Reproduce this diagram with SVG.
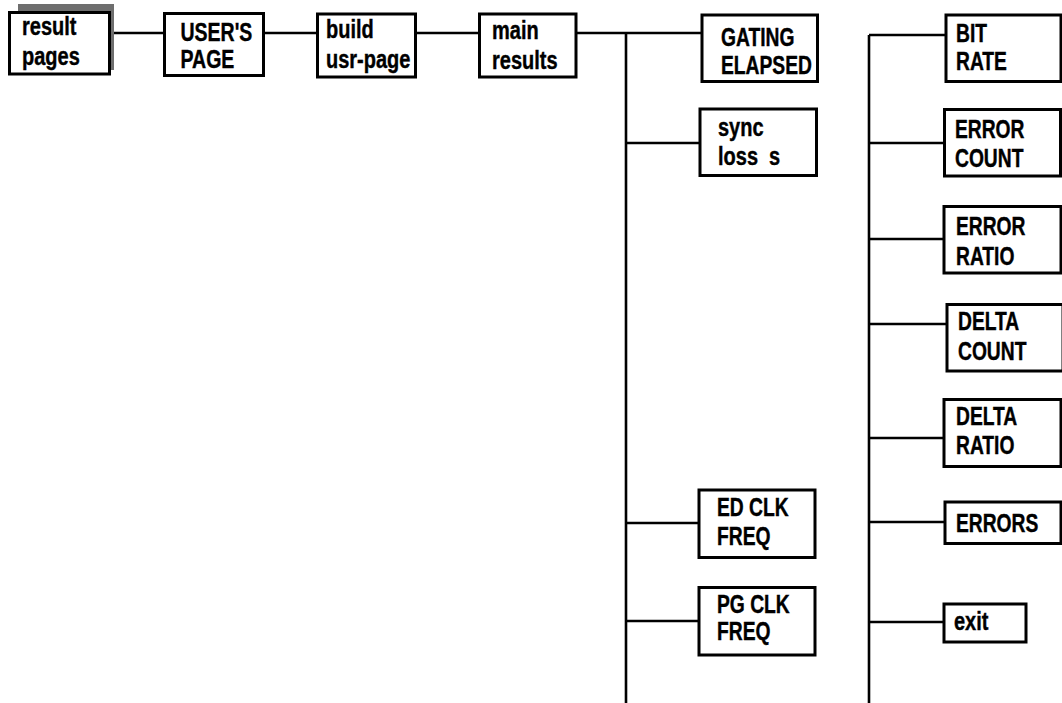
<svg xmlns="http://www.w3.org/2000/svg" width="1062" height="703" viewBox="0 0 1062 703">
<style>
.box{fill:#fff;stroke:#000;stroke-width:3}
.shadow{fill:#6e6e6e}
.t{font-family:"Liberation Sans",Arial,sans-serif;font-weight:bold;font-size:25px;fill:#000;stroke:#000;stroke-width:0.4}
.big{font-size:26px}
.c{fill:none;stroke:#000;stroke-width:2.6}
</style>
<rect width="1062" height="703" fill="#fff"/>
<g id="connectors">
<path class="c" d="M110,33H164M264,33H317M416,33H479M576,33H702"/>
<path class="c" d="M626,33V703M626,143H700M626,523H699M626,621H699"/>
<path class="c" d="M869,35V703M869,35H946M869,143H944M869,239H944M869,324H947M869,438H944M869,522H945M869,622H944"/>
</g>
<g id="result-pages">
<rect class="shadow" x="18" y="4" width="96" height="66"/>
<rect class="box" x="9.5" y="12.5" width="100" height="61.5"/>
<text class="t" transform="translate(22,35) scale(0.8,1)">result</text><text class="t" transform="translate(22,64.5) scale(0.8,1)">pages</text>
</g>
<g id="users-page">
<rect class="box" x="164.5" y="13.5" width="99" height="62"/>
<text class="t big" transform="translate(180.5,41) scale(0.75,1)">USER'S</text><text class="t big" transform="translate(180.5,68) scale(0.75,1)">PAGE</text>
</g>
<g id="build-usr-page">
<rect class="box" x="317.5" y="14" width="98" height="63"/>
<text class="t" transform="translate(326,38) scale(0.8,1)">build</text><text class="t" transform="translate(326,68) scale(0.8,1)">usr-page</text>
</g>
<g id="main-results">
<rect class="box" x="479.5" y="14" width="96.5" height="63"/>
<text class="t" transform="translate(492,39) scale(0.8,1)">main</text><text class="t" transform="translate(492,69) scale(0.8,1)">results</text>
</g>
<g id="gating-elapsed">
<rect class="box" x="702" y="15" width="115.5" height="66.5"/>
<text class="t" transform="translate(721,46) scale(0.77,1)">GATING</text><text class="t" transform="translate(721,74) scale(0.77,1)">ELAPSED</text>
</g>
<g id="sync-loss">
<rect class="box" x="700" y="109" width="116.5" height="66.5"/>
<text class="t" transform="translate(718,136) scale(0.8,1)">sync</text><text class="t" transform="translate(718,165) scale(0.8,1)" xml:space="preserve">loss  s</text>
</g>
<g id="ed-clk-freq">
<rect class="box" x="699" y="490" width="116" height="67.5"/>
<text class="t" transform="translate(717,516) scale(0.77,1)">ED CLK</text><text class="t" transform="translate(717,545) scale(0.77,1)">FREQ</text>
</g>
<g id="pg-clk-freq">
<rect class="box" x="699" y="587.5" width="116" height="67.5"/>
<text class="t" transform="translate(717,613) scale(0.77,1)">PG CLK</text><text class="t" transform="translate(717,640) scale(0.77,1)">FREQ</text>
</g>
<g id="bit-rate">
<rect class="box" x="946" y="15" width="115" height="66.5"/>
<text class="t" transform="translate(956,41.5) scale(0.77,1)">BIT</text><text class="t" transform="translate(956,70) scale(0.77,1)">RATE</text>
</g>
<g id="error-count">
<rect class="box" x="944.5" y="109.5" width="116" height="66.5"/>
<text class="t" transform="translate(955,138) scale(0.77,1)">ERROR</text><text class="t" transform="translate(955,167) scale(0.77,1)">COUNT</text>
</g>
<g id="error-ratio">
<rect class="box" x="944" y="206.5" width="117" height="66.5"/>
<text class="t" transform="translate(956,235) scale(0.77,1)">ERROR</text><text class="t" transform="translate(956,265) scale(0.77,1)">RATIO</text>
</g>
<g id="delta-count">
<rect class="box" x="947" y="304.5" width="116" height="66.5"/>
<text class="t" transform="translate(958,330) scale(0.77,1)">DELTA</text><text class="t" transform="translate(958,360) scale(0.77,1)">COUNT</text>
</g>
<g id="delta-ratio">
<rect class="box" x="944" y="399.5" width="117" height="67"/>
<text class="t" transform="translate(956,425) scale(0.77,1)">DELTA</text><text class="t" transform="translate(956,454) scale(0.77,1)">RATIO</text>
</g>
<g id="errors">
<rect class="box" x="945" y="502" width="116" height="41.5"/>
<text class="t" transform="translate(956,531.5) scale(0.77,1)">ERRORS</text>
</g>
<g id="exit">
<rect class="box" x="944" y="604" width="82" height="38"/>
<text class="t" transform="translate(954,630) scale(0.8,1)">exit</text>
</g>
</svg>
